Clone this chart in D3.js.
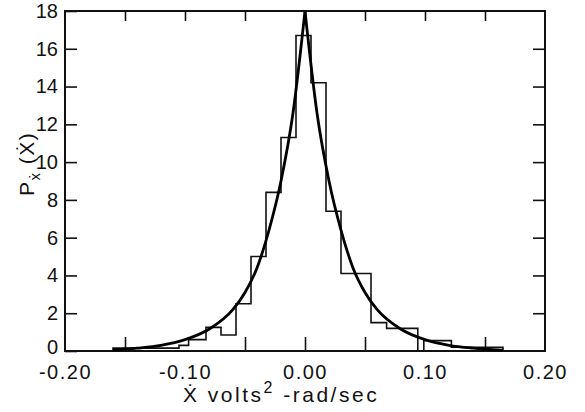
<!DOCTYPE html>
<html>
<head>
<meta charset="utf-8">
<script src="https://cdn.jsdelivr.net/npm/d3@7"></script>
<style>
  body { margin: 0; background: #fff; }
  text { font-family: "Liberation Sans", "DejaVu Sans", sans-serif; fill: #111; }
</style>
</head>
<body>
<script>
// histogram bins
var binEdges = [-0.160, -0.105, -0.097, -0.0825, -0.070, -0.0575, -0.045, -0.0325, -0.020, -0.0075,
                0.005, 0.0175, 0.030, 0.055, 0.068, 0.094, 0.099, 0.122, 0.165];
var binHeights = [0.15, 0.3, 0.6, 1.25, 0.85, 2.5, 5.0, 8.4, 11.3, 16.7,
                  14.2, 7.4, 4.1, 1.5, 1.2, 0, 0.55, 0.2];

// fitted density curve points
var curveX = [-0.160, -0.140, -0.120, -0.100, -0.080, -0.060, -0.050, -0.040, -0.030, -0.020, -0.010, 0.000,
              0.010, 0.020, 0.030, 0.040, 0.050, 0.060, 0.080, 0.100, 0.120, 0.140, 0.165];
var curveY = [0.05, 0.15, 0.3, 0.6, 1.15, 2.2, 3.1, 4.4, 6.4, 9.0, 12.6, 18.0,
              12.6, 9.0, 6.4, 4.4, 3.1, 2.2, 1.15, 0.6, 0.3, 0.15, 0.05];

var yTicks = [0, 2, 4, 6, 8, 10, 12, 14, 16, 18];
var xLabels = [-0.20, -0.10, 0.00, 0.10, 0.20];
var xTopTicks = [-0.15, -0.10, -0.05, 0.00, 0.05, 0.10, 0.15];
var xBottomTicks = [-0.15, -0.05, 0.00, 0.05, 0.15];

var width = 585, height = 412;
var m = { left: 65, right: 40, top: 11, bottom: 61 };
var pw = width - m.left - m.right, ph = height - m.top - m.bottom;

var x = d3.scaleLinear().domain([-0.20, 0.20]).range([0, pw]);
var y = d3.scaleLinear().domain([0, 18]).range([ph, 0]);

var svg = d3.select("body").append("svg")
    .attr("width", width)
    .attr("height", height);

var g = svg.append("g")
    .attr("transform", "translate(" + m.left + "," + m.top + ")");

// axes (inward ticks)
var fmtX = function(d) { return (d < 0 ? "-" : "") + Math.abs(d).toFixed(2); };

var yl = g.append("g").attr("class", "axis left")
    .call(d3.axisLeft(y).tickValues(yTicks).tickSize(-12).tickPadding(7));
g.append("g").attr("class", "axis right")
    .attr("transform", "translate(" + pw + ",0)")
    .call(d3.axisRight(y).tickValues(yTicks.slice(1, -1)).tickSize(-12).tickFormat(""));
g.append("g").attr("class", "axis top")
    .call(d3.axisTop(x).tickValues(xTopTicks).tickSize(-10).tickFormat(""));
g.append("g").attr("class", "axis bottom")
    .attr("transform", "translate(0," + ph + ")")
    .call(d3.axisBottom(x).tickValues(xBottomTicks).tickSize(-14).tickFormat(""));
var xl = g.append("g").attr("class", "axis labels")
    .attr("transform", "translate(0," + ph + ")")
    .call(d3.axisBottom(x).tickValues(xLabels).tickSize(0).tickPadding(14).tickFormat(fmtX));

svg.selectAll(".axis .domain").remove();
svg.selectAll(".axis line").attr("stroke", "#111").attr("stroke-width", 1.6);
svg.selectAll(".axis text").attr("font-size", 20).attr("fill", "#111");
xl.selectAll("text").attr("letter-spacing", 1.5);
// the zero label sits a touch high so it clears the -0.20 below it
yl.selectAll("text").filter(function(d) { return d === 0; }).attr("dy", "0.1em");

// frame
g.append("rect")
    .attr("width", pw)
    .attr("height", ph)
    .attr("fill", "none")
    .attr("stroke", "#111")
    .attr("stroke-width", 2);

// histogram as a step outline
var steps = [[binEdges[0], 0]];
binHeights.forEach(function(h, i) {
    steps.push([binEdges[i], h]);
    steps.push([binEdges[i + 1], h]);
});
steps.push([binEdges[binEdges.length - 1], 0]);

var line = d3.line()
    .x(function(d) { return x(d[0]); })
    .y(function(d) { return y(d[1]); });

g.append("path")
    .datum(steps)
    .attr("fill", "none")
    .attr("stroke", "#111")
    .attr("stroke-width", 1.6)
    .attr("d", line);

// fitted curve, two halves so the peak keeps its cusp
var pts = curveX.map(function(v, i) { return [v, curveY[i]]; });
var smooth = d3.line()
    .x(function(d) { return x(d[0]); })
    .y(function(d) { return y(d[1]); })
    .curve(d3.curveMonotoneX);

[pts.filter(function(d) { return d[0] <= 0; }), pts.filter(function(d) { return d[0] >= 0; })]
    .forEach(function(half) {
        g.append("path")
            .datum(half)
            .attr("fill", "none")
            .attr("stroke", "#000")
            .attr("stroke-width", 2.8)
            .attr("stroke-linejoin", "round")
            .attr("d", smooth);
    });

// axis titles
var xt = svg.append("text")
    .attr("x", 183)
    .attr("y", 402)
    .attr("font-size", 21)
    .attr("letter-spacing", 2.5);
xt.append("tspan").text("Ẋ volts");
xt.append("tspan").attr("font-size", 16).attr("dy", -9).text("2");
xt.append("tspan").attr("dy", 9).text(" -rad/sec");

var yt = svg.append("text")
    .attr("transform", "translate(34,196) rotate(-90)")
    .attr("font-size", 21)
    .attr("letter-spacing", 1.5);
yt.append("tspan").text("P");
yt.append("tspan").attr("font-size", 15).attr("dy", 6).text("ẋ");
yt.append("tspan").attr("dy", -6).text(" (Ẋ)");
</script>
</body>
</html>
